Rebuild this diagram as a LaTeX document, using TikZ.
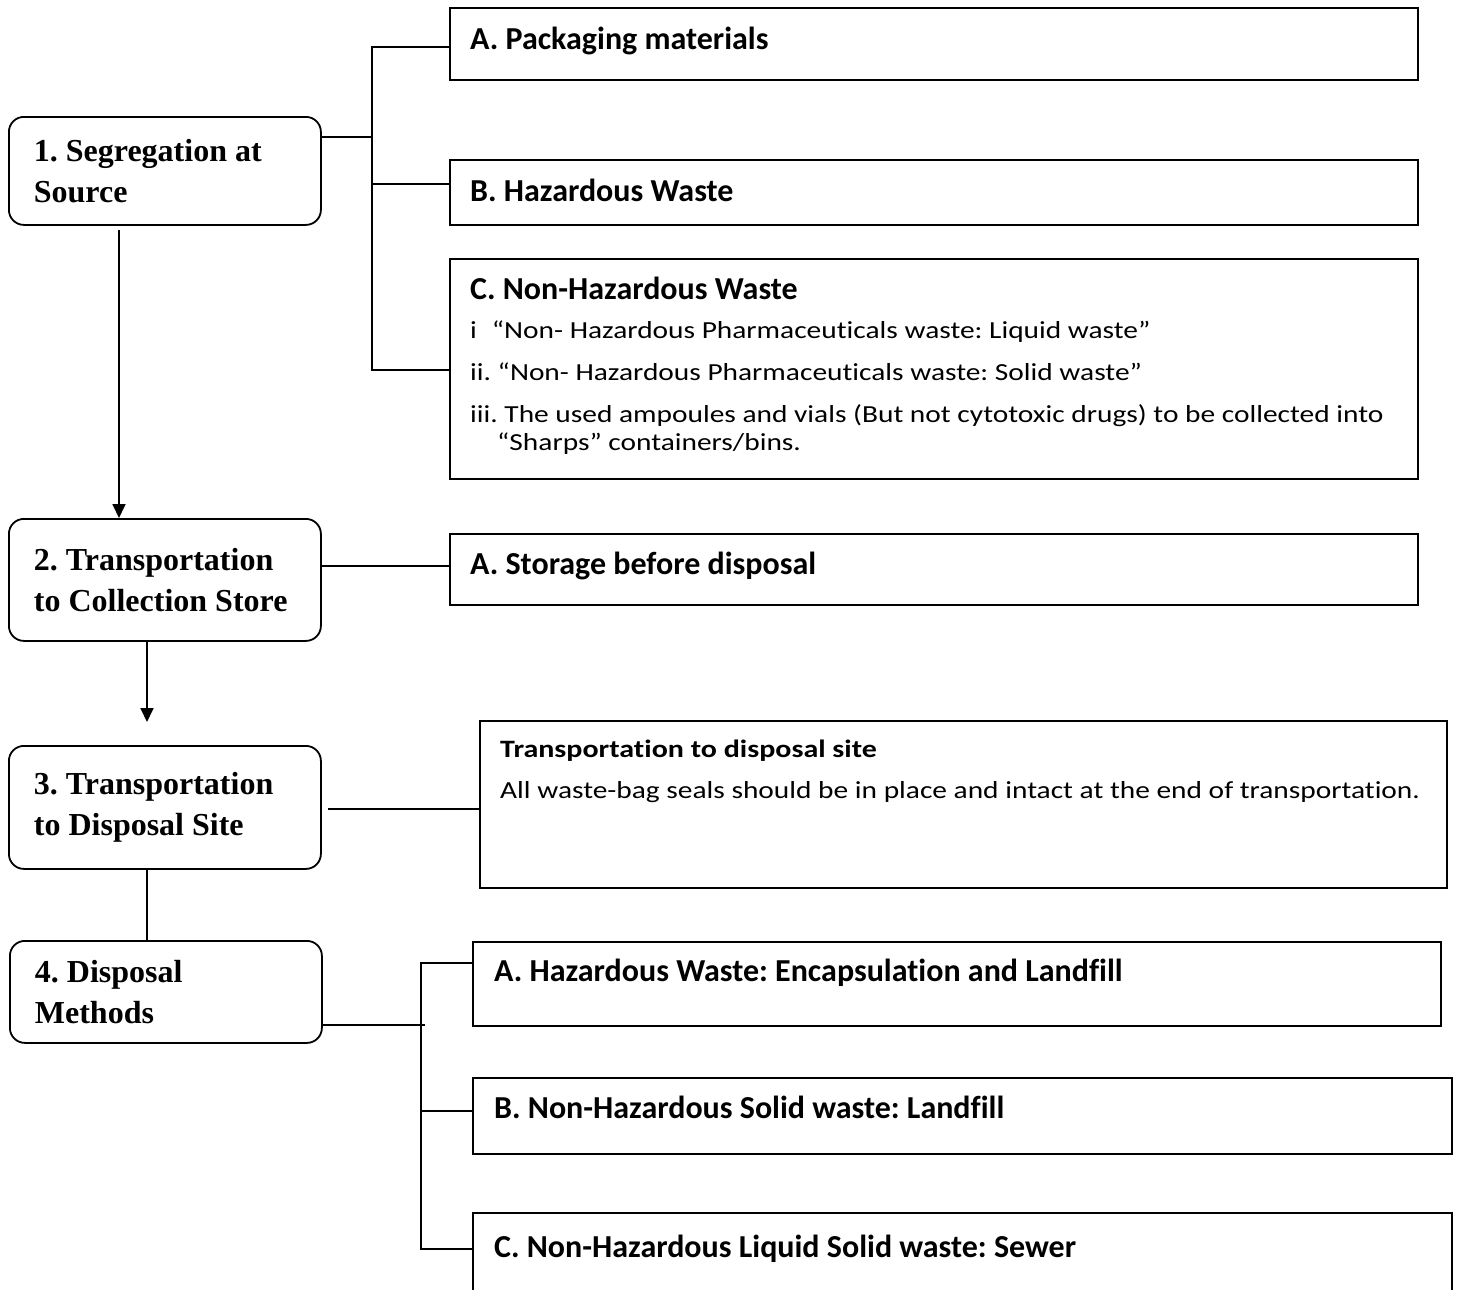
\documentclass[tikz,border=0pt]{standalone}
\usepackage{fontspec}
\setmainfont{Liberation Serif}
\newfontfamily\calibri[Ligatures=NoCommon]{Carlito}
\newfontfamily\calibriwide[Ligatures=NoCommon,FakeStretch=1.2]{Carlito}
\frenchspacing
\usetikzlibrary{positioning,arrows.meta}
\tikzstyle{stage}=[draw,line width=1.8pt,rounded corners=15pt,anchor=north west,inner xsep=25pt,inner ysep=0pt,text width=262pt,align=flush left,font=\fontsize{32}{41}\selectfont\bfseries]
\tikzstyle{item}=[draw,line width=1.8pt,anchor=north west,inner sep=0pt]
\tikzstyle{head}=[anchor=base west,inner sep=0pt,font=\calibri\fontsize{32}{36}\selectfont\bfseries]
\tikzstyle{body}=[anchor=base west,inner sep=0pt,font=\calibriwide\fontsize{24.5}{30}\selectfont]
\tikzstyle{link}=[line width=1.8pt]
\tikzstyle{arr}=[link,-{Triangle[width=13pt,length=14pt]}]
\newcommand{\drawBox}[5]{
\node[item,minimum width=#4pt,minimum height=#5pt] (#1) at (#2,#3) {};
}

\begin{document}
\begin{tikzpicture}[x=1pt,y=-1pt]
\useasboundingbox (0,0) rectangle (1457,1290);
% the four stages on the left
\node[stage,minimum height=108pt] (seg) at (8,116) {1. Segregation at\\Source};
\node[stage,minimum height=122pt] (coll) at (8,518) {2. Transportation\\to Collection Store};
\node[stage,minimum height=123pt] (dsite) at (8,745) {3. Transportation\\to Disposal Site};
\node[stage,minimum height=102pt] (disp) at (9,940) {4. Disposal\\Methods};

% boxes on the right: name, x, y, width, height
\drawBox{pack}{449}{7}{968}{72}
\drawBox{haz}{449}{159}{968}{65}
\drawBox{nonhaz}{449}{258}{968}{220}
\drawBox{store}{449}{533}{968}{71}
\drawBox{trans}{479}{720}{967}{167}
\drawBox{encap}{472}{941}{968}{84}
\drawBox{landfill}{472}{1077}{979}{76}
\drawBox{sewer}{472}{1212}{979}{120} % runs off the page at the bottom

\node[head] (packT) at (470,49.5) {A. Packaging materials};
\node[head] (hazT) at (470,201) {B. Hazardous Waste};
\node[head] (nonhazT) at (470,299.5) {C. Non-Hazardous Waste};
\node[body] (nhI) at (470,338) {i\hspace{15pt}“Non- Hazardous Pharmaceuticals waste: Liquid waste”};
\node[body] (nhII) at (470,380) {ii. “Non- Hazardous Pharmaceuticals waste: Solid waste”};
\node[body] (nhIII) at (470,422) {iii. The used ampoules and vials (But not cytotoxic drugs) to be collected into};
\node[body] (nhIV) at (497,450) {“Sharps” containers/bins.};
\node[head] (storeT) at (470,574.5) {A. Storage before disposal};
\node[head,font=\calibriwide\fontsize{25}{30}\selectfont\bfseries] (transT) at (500,757) {Transportation to disposal site};
\node[body] (transB) at (500,798) {All waste-bag seals should be in place and intact at the end of transportation.};
\node[head] (encapT) at (494,981.5) {A. Hazardous Waste: Encapsulation and Landfill};
\node[head] (landfillT) at (494,1118.5) {B. Non-Hazardous Solid waste: Landfill};
\node[head] (sewerT) at (494,1257) {C. Non-Hazardous Liquid Solid waste: Sewer};

% connectors
\draw[arr] (119,230) -- (coll.north -| 119,0);
\draw[arr] (coll.south -| 147,0) -- (147,722);
\draw[link] (dsite.south -| 147,0) -- (disp.north -| 147,0);

\draw[link] (seg.east |- 0,137) -- (372,137);
\draw[link] (pack.west |- 0,47) -| (372,370) -- (nonhaz.west |- 0,370);
\draw[link] (372,184) -- (haz.west |- 0,184);
\draw[link] (coll.east |- 0,566) -- (store.west |- 0,566);
\draw[link] (328,809) -- (trans.west |- 0,809);
\draw[link] (disp.east |- 0,1025) -- (425,1025);
\draw[link] (encap.west |- 0,963) -| (421,1249) -- (sewer.west |- 0,1249);
\draw[link] (421,1111) -- (landfill.west |- 0,1111);
\end{tikzpicture}
\end{document}
